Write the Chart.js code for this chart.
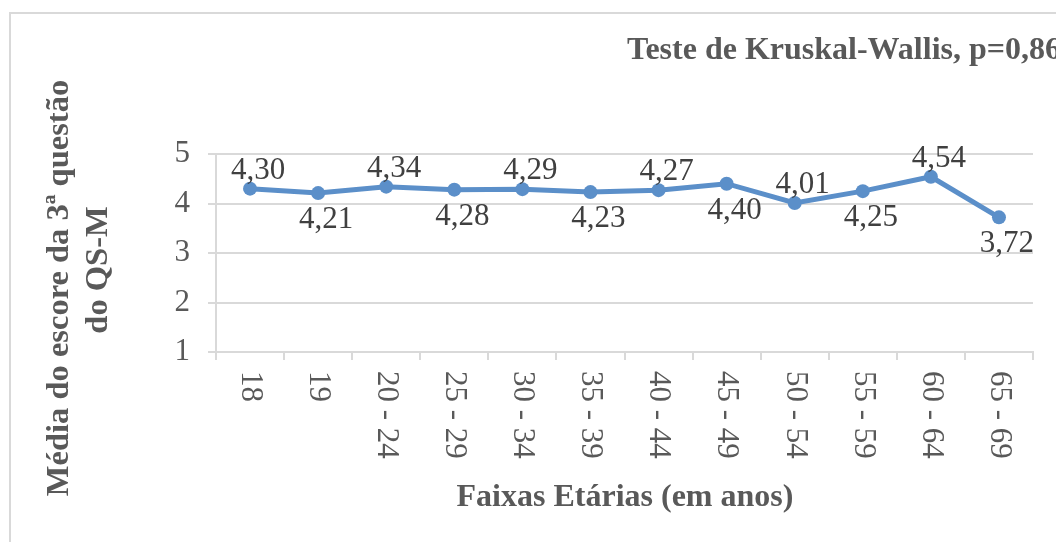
<!DOCTYPE html>
<html>
<head>
<meta charset="utf-8">
<script src="https://cdn.jsdelivr.net/npm/chart.js@4/dist/chart.umd.min.js"></script>
<style>
  html, body { margin: 0; padding: 0; background: #ffffff; }
  #wrap { width: 1056px; height: 542px; position: relative; }
</style>
</head>
<body>
<div id="wrap"><canvas id="c" width="1056" height="542"></canvas></div>
<script>
// ---- data ----
const categories = ["18", "19", "20 - 24", "25 - 29", "30 - 34", "35 - 39", "40 - 44", "45 - 49", "50 - 54", "55 - 59", "60 - 64", "65 - 69"];
const meanScores = [4.30, 4.21, 4.34, 4.28, 4.29, 4.23, 4.27, 4.40, 4.01, 4.25, 4.54, 3.72];
const labelAbove = [true, false, true, false, true, false, true, false, true, false, true, false];
const yTicks = [1, 2, 3, 4, 5];
const chartTitle = "Teste de Kruskal-Wallis, p=0,86";
const yTitleLines = ["Média do escore da 3ª questão", "do QS-M"];
const xTitle = "Faixas Etárias (em anos)";

const SERIF = '"Liberation Serif", "Times New Roman", "DejaVu Serif", serif';
const GRID = '#D9D9D9';
const TXT = '#595959';
const LINE = '#5B8FC9';

const decorPlugin = {
  id: 'decor',
  beforeDraw(chart) {
    const ctx = chart.ctx;
    ctx.save();
    ctx.strokeStyle = GRID;
    ctx.lineWidth = 2;
    ctx.beginPath();
    ctx.moveTo(10, 542);
    ctx.lineTo(10, 13);
    ctx.lineTo(1056, 13);
    ctx.stroke();
    ctx.restore();
  },
  afterDraw(chart) {
    const ctx = chart.ctx;
    const xs = chart.scales.x;
    const ca = chart.chartArea;
    ctx.save();
    // title
    ctx.fillStyle = TXT;
    ctx.font = 'bold 32px ' + SERIF;
    ctx.textAlign = 'left';
    ctx.textBaseline = 'alphabetic';
    ctx.fillText(chartTitle, 627, 59);

    // x tick labels rotated clockwise
    ctx.font = '31px ' + SERIF;
    ctx.fillStyle = TXT;
    categories.forEach((lab, i) => {
      const x = xs.getPixelForValue(i);
      ctx.save();
      ctx.translate(x, ca.bottom + 19);
      ctx.rotate(Math.PI / 2);
      ctx.textAlign = 'left';
      ctx.textBaseline = 'middle';
      ctx.fillText(lab, 0, 0);
      ctx.restore();
    });

    // x title
    ctx.font = 'bold 32px ' + SERIF;
    ctx.textAlign = 'center';
    ctx.textBaseline = 'alphabetic';
    ctx.fillText(xTitle, 625, 506);

    // y title (two lines, rotated)
    ctx.font = 'bold 32.5px ' + SERIF;
    const yCenters = [288, 270];
    const yBase = [68, 107];
    yTitleLines.forEach((t, i) => {
      ctx.save();
      ctx.translate(yBase[i], yCenters[i]);
      ctx.rotate(-Math.PI / 2);
      ctx.textAlign = 'center';
      ctx.textBaseline = 'alphabetic';
      ctx.fillText(t, 0, 0);
      ctx.restore();
    });

    // data labels
    const meta = chart.getDatasetMeta(0);
    ctx.font = '31px ' + SERIF;
    ctx.fillStyle = '#404040';
    ctx.textAlign = 'center';
    ctx.textBaseline = 'alphabetic';
    meta.data.forEach((pt, i) => {
      const txt = meanScores[i].toFixed(2).replace('.', ',');
      const y = labelAbove[i] ? pt.y - 10 : pt.y + 35;
      ctx.fillText(txt, pt.x + 8, y);
    });
    ctx.restore();
  }
};

new Chart(document.getElementById('c'), {
  type: 'line',
  data: {
    labels: categories,
    datasets: [{
      data: meanScores,
      borderColor: LINE,
      backgroundColor: LINE,
      borderWidth: 5,
      pointRadius: 7,
      pointHoverRadius: 7,
      pointBackgroundColor: LINE,
      pointBorderColor: LINE,
      pointBorderWidth: 0,
      tension: 0,
      clip: false
    }]
  },
  options: {
    responsive: false,
    animation: false,
    devicePixelRatio: 1,
    layout: { padding: { left: 0, top: 154, right: 23, bottom: 0 } },
    plugins: { legend: { display: false }, tooltip: { enabled: false }, title: { display: false } },
    scales: {
      x: {
        type: 'category',
        offset: true,
        grid: { offset: true, drawOnChartArea: false, drawTicks: true, tickLength: 8, color: GRID, lineWidth: 2 },
        border: { display: true, color: GRID, width: 2 },
        ticks: { display: false },
        afterFit(scale) { scale.height = 190; }
      },
      y: {
        min: 1, max: 5,
        afterBuildTicks(scale) { scale.ticks = yTicks.map(v => ({ value: v })); },
        grid: { color: GRID, lineWidth: 2, tickLength: 8, drawTicks: true },
        border: { display: true, color: GRID, width: 2 },
        ticks: { color: TXT, font: { family: SERIF, size: 31 }, padding: 18, stepSize: 1 },
        afterFit(scale) { scale.width = 216; }
      }
    }
  },
  plugins: [decorPlugin]
});
</script>
</body>
</html>
